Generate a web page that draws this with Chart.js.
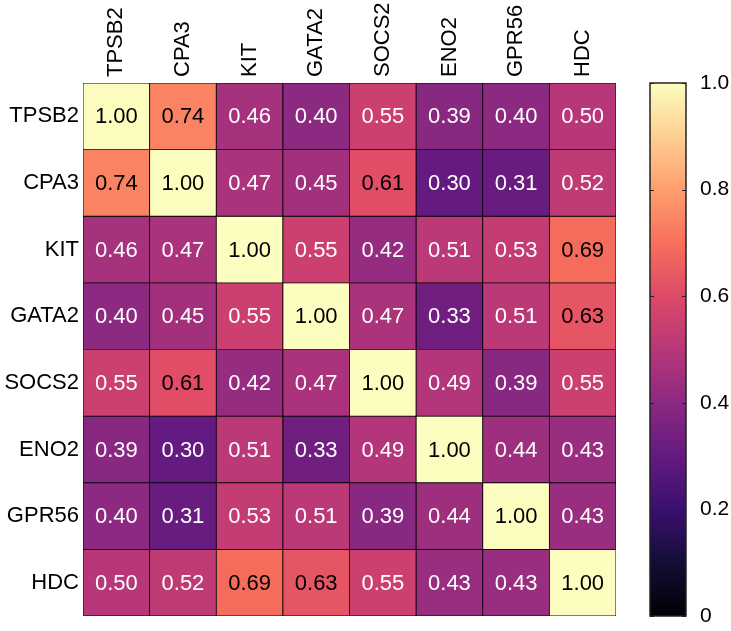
<!DOCTYPE html>
<html>
<head>
<meta charset="utf-8">
<script src="https://cdn.jsdelivr.net/npm/chart.js@4.4.1/dist/chart.umd.min.js"></script>
<style>
  html, body { margin: 0; padding: 0; background: #fff; }
  #wrap { width: 731px; height: 631px; }
</style>
</head>
<body>
<div id="wrap"><canvas id="myChart"></canvas></div>
<script>
const genes = ['TPSB2', 'CPA3', 'KIT', 'GATA2', 'SOCS2', 'ENO2', 'GPR56', 'HDC'];
const TPSB2 = [1.00, 0.74, 0.46, 0.40, 0.55, 0.39, 0.40, 0.50];
const CPA3  = [0.74, 1.00, 0.47, 0.45, 0.61, 0.30, 0.31, 0.52];
const KIT   = [0.46, 0.47, 1.00, 0.55, 0.42, 0.51, 0.53, 0.69];
const GATA2 = [0.40, 0.45, 0.55, 1.00, 0.47, 0.33, 0.51, 0.63];
const SOCS2 = [0.55, 0.61, 0.42, 0.47, 1.00, 0.49, 0.39, 0.55];
const ENO2  = [0.39, 0.30, 0.51, 0.33, 0.49, 1.00, 0.44, 0.43];
const GPR56 = [0.40, 0.31, 0.53, 0.51, 0.39, 0.44, 1.00, 0.43];
const HDC   = [0.50, 0.52, 0.69, 0.63, 0.55, 0.43, 0.43, 1.00];
const rows = [TPSB2, CPA3, KIT, GATA2, SOCS2, ENO2, GPR56, HDC];
const cbTicks = [0, 0.2, 0.4, 0.6, 0.8, 1.0];

// magma colormap, 11 stops
const magmaStops = ['#000004', '#140e36', '#3b0f70', '#641a80', '#8c2981', '#b73779',
                    '#de4968', '#f7705c', '#fe9f6d', '#fecf92', '#fcfdbf'];
function hexRgb(h) {
  return [parseInt(h.slice(1, 3), 16), parseInt(h.slice(3, 5), 16), parseInt(h.slice(5, 7), 16)];
}
function magma(t) {
  t = Math.max(0, Math.min(1, t));
  let p = t * 10;
  let i = Math.min(9, Math.floor(p));
  let f = p - i;
  let a = hexRgb(magmaStops[i]), b = hexRgb(magmaStops[i + 1]);
  let c = a.map((v, k) => Math.round(v + (b[k] - v) * f));
  return 'rgb(' + c.join(',') + ')';
}

const FAMILY = 'Arial, "Liberation Sans", sans-serif';
const FONT = { family: FAMILY, size: 22 };
const CB_FONT = { family: FAMILY, size: 21 };

const datasets = rows.map((vals, r) => ({
  label: genes[r],
  data: vals.map(() => [r, r + 1]),
  values: vals,
  backgroundColor: vals.map(magma),
  borderColor: '#000',
  borderWidth: 0.8,
  borderSkipped: false,
  grouped: false,
  barPercentage: 1,
  categoryPercentage: 1
}));

const cellText = {
  id: 'cellText',
  afterDatasetsDraw(chart) {
    const c = chart.ctx;
    c.save();
    c.font = FONT.size + 'px ' + FAMILY;
    c.textAlign = 'center';
    c.textBaseline = 'middle';
    chart.data.datasets.forEach((ds, i) => {
      chart.getDatasetMeta(i).data.forEach((el, j) => {
        const v = ds.values[j];
        c.fillStyle = v > 0.6 ? '#000' : '#fff';
        c.fillText(v.toFixed(2), el.x, (el.y + el.base) / 2 + 1);
      });
    });
    c.restore();
  }
};

const colorBar = {
  id: 'colorBar',
  afterDraw(chart) {
    const c = chart.ctx;
    const s = chart.scales.cb;
    const x0 = chart.chartArea.right + 34, w = 36;
    const top = s.getPixelForValue(1), bot = s.getPixelForValue(0);
    const g = c.createLinearGradient(0, bot, 0, top);
    magmaStops.forEach((col, k) => g.addColorStop(k / 10, col));
    c.save();
    c.fillStyle = g;
    c.fillRect(x0, top, w, bot - top);
    c.strokeStyle = '#222';
    c.lineWidth = 1.5;
    c.strokeRect(x0, top, w, bot - top);
    c.lineWidth = 1;
    cbTicks.forEach(v => {
      const y = Math.round(s.getPixelForValue(v)) + 0.5;
      c.beginPath();
      c.moveTo(x0, y); c.lineTo(x0 + 4, y);
      c.moveTo(x0 + w - 4, y); c.lineTo(x0 + w, y);
      c.stroke();
    });
    c.restore();
  }
};

function noPad(scale) {
  scale.paddingTop = 0; scale.paddingBottom = 0;
  scale.paddingLeft = 0; scale.paddingRight = 0;
}

new Chart(document.getElementById('myChart'), {
  type: 'bar',
  data: { labels: genes, datasets: datasets },
  options: {
    responsive: true,
    maintainAspectRatio: false,
    animation: false,
    layout: { padding: { top: 0, left: 0, right: 0, bottom: 15 } },
    plugins: { legend: { display: false }, tooltip: { enabled: false } },
    scales: {
      x: {
        type: 'category',
        position: 'top',
        offset: true,
        grid: { display: false, drawTicks: false },
        border: { display: false },
        ticks: {
          color: '#000', font: FONT, minRotation: 90, maxRotation: 90,
          padding: 6, labelOffset: FONT.size * 1.2
        },
        afterFit(scale) { scale.height = 83; noPad(scale); }
      },
      y: {
        type: 'linear',
        min: 0,
        max: 8,
        reverse: true,
        grid: { display: false, drawTicks: false },
        border: { display: false },
        afterBuildTicks(scale) { scale.ticks = genes.map((g, i) => ({ value: i + 0.5 })); },
        ticks: {
          color: '#000', font: FONT, padding: 4,
          callback: v => genes[Math.floor(v)]
        },
        afterFit(scale) { scale.width = 83; noPad(scale); }
      },
      cb: {
        type: 'linear',
        position: 'right',
        min: 0,
        max: 1,
        grid: { display: false, drawTicks: false },
        border: { display: false },
        afterBuildTicks(scale) { scale.ticks = cbTicks.map(v => ({ value: v })); },
        ticks: {
          color: '#000', font: CB_FONT, padding: 84,
          callback: v => v === 0 ? '0' : v.toFixed(1)
        },
        afterFit(scale) { scale.width = 115; noPad(scale); }
      }
    }
  },
  plugins: [cellText, colorBar]
});
</script>
</body>
</html>
